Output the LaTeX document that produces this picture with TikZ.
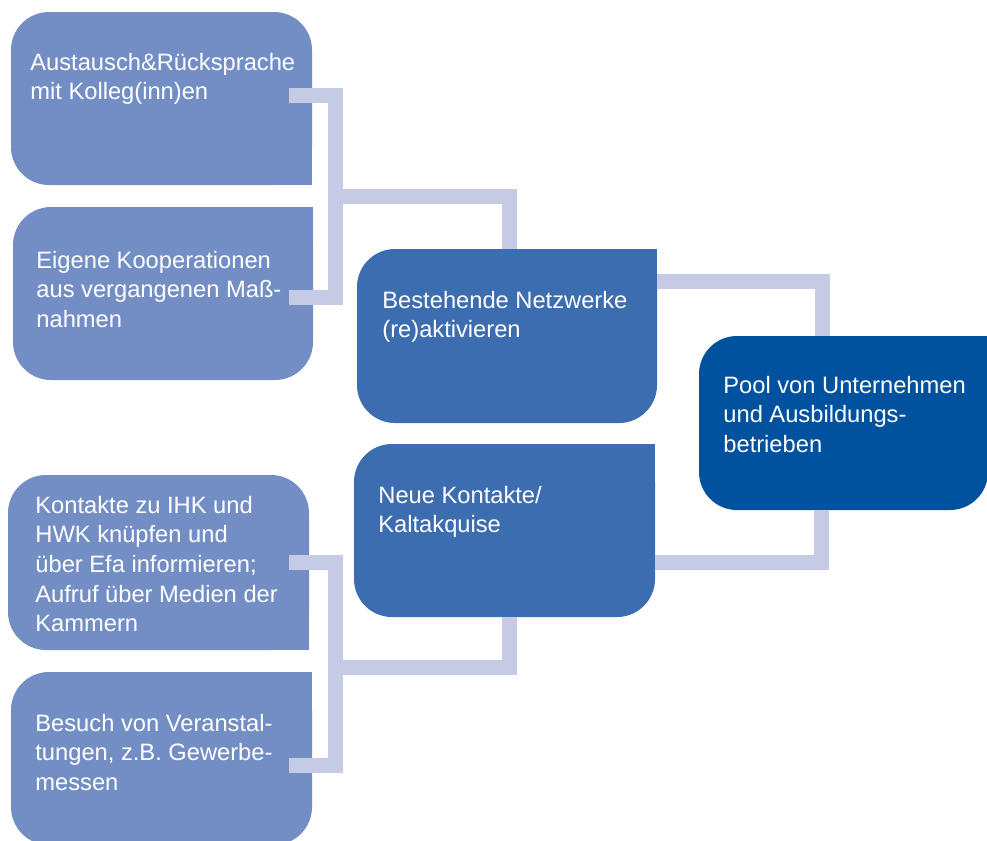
\documentclass[tikz,border=0pt]{standalone}
\usepackage{fontspec}
\setmainfont{Liberation Sans}
\usetikzlibrary{backgrounds}

\definecolor{boxlight}{RGB}{115,142,196}
\definecolor{boxmid}{RGB}{60,109,176}
\definecolor{boxdark}{RGB}{0,82,159}
\definecolor{linkcol}{RGB}{197,202,229}

\tikzset{
	box/.style={rectangle, rounded corners=19pt, inner sep=0pt, outer sep=0pt},
	txt/.style={anchor=base west, inner sep=0pt, align=left, text=white,
		font=\fontsize{11.85}{14.85}\selectfont},
	link/.style={draw=linkcol, line width=7.5pt, line join=miter}
}

\begin{document}
\begin{tikzpicture}[x=0.5pt, y=-0.5pt]
			\useasboundingbox (0,0) rectangle (987,841);
			% boxes
			\node[box, fill=boxlight, minimum width=150.5pt, minimum height=86.5pt] (A) at (161.5,98.5) {};
			\node[box, fill=boxlight, minimum width=150pt, minimum height=86.5pt] (B) at (163,293.5) {};
			\node[box, fill=boxmid, minimum width=150pt, minimum height=87pt] (C) at (507,336) {};
			\node[box, fill=boxdark, minimum width=144.5pt, minimum height=87pt] (D) at (843.5,423) {};
			\node[box, fill=boxmid, minimum width=150.5pt, minimum height=86.5pt] (E) at (504.5,530.5) {};
			\node[box, fill=boxlight, minimum width=150.5pt, minimum height=87.5pt] (F) at (158.5,562.5) {};
			\node[box, fill=boxlight, minimum width=150.5pt, minimum height=86.5pt] (G) at (161.5,758.5) {};
			\begin{scope}[on background layer]
				\fill[boxlight] (A.center) rectangle (A.south east);
				\fill[boxlight] (B.center) rectangle (B.north east);
				\fill[boxmid] (C.center) rectangle (C.north east);
				\fill[boxdark] (D.center) rectangle (D.north east);
				\fill[boxmid] (E.center) rectangle (E.north east);
				\fill[boxlight] (F.center) rectangle (F.south east);
				\fill[boxlight] (G.center) rectangle (G.north east);
			\end{scope}
			% connectors
			\coordinate (jAB) at (335.5,196);
			\coordinate (jFG) at (335.5,667);
			\draw[link] ([xshift=-11.5pt,yshift=1.75pt]A.east) -| (jAB) |- ([xshift=-12pt,yshift=-1.75pt]B.east);
			\draw[link] (jAB) -| ([xshift=1.25pt]C.north);
			\draw[link] ([yshift=27.25pt]C.east) -| ([xshift=-10.5pt]D.north);
			\draw[link] ([xshift=-11pt]D.south) |- ([yshift=-16pt]E.east);
			\draw[link] ([xshift=-10pt]F.east) -| (jFG) |- ([xshift=-11.5pt,yshift=-3.25pt]G.east);
			\draw[link] (jFG) -| ([xshift=2.5pt]E.south);
			% texts (placed at the baseline of their last line)
			\node[txt] (tA) at (30,99.7) {Austausch\&Rücksprache\\mit Kolleg(inn)en};
			\node[txt] (tB) at (36,327.4) {Eigene Kooperationen\\aus vergangenen Maß-\\nahmen};
			\node[txt] (tC) at (382,337.7) {Bestehende Netzwerke\\(re)aktivieren};
			\node[txt] (tD) at (723,452.4) {Pool von Unternehmen\\und Ausbildungs-\\betrieben};
			\node[txt] (tE) at (378,532.7) {Neue Kontakte/\\Kaltakquise};
			\node[txt] (tF) at (35,631.8) {Kontakte zu IHK und\\HWK knüpfen und\\über Efa informieren;\\Aufruf über Medien der\\Kammern};
			\node[txt] (tG) at (35,790.4) {Besuch von Veranstal-\\tungen, z.B. Gewerbe-\\messen};
		\end{tikzpicture}
\end{document}
